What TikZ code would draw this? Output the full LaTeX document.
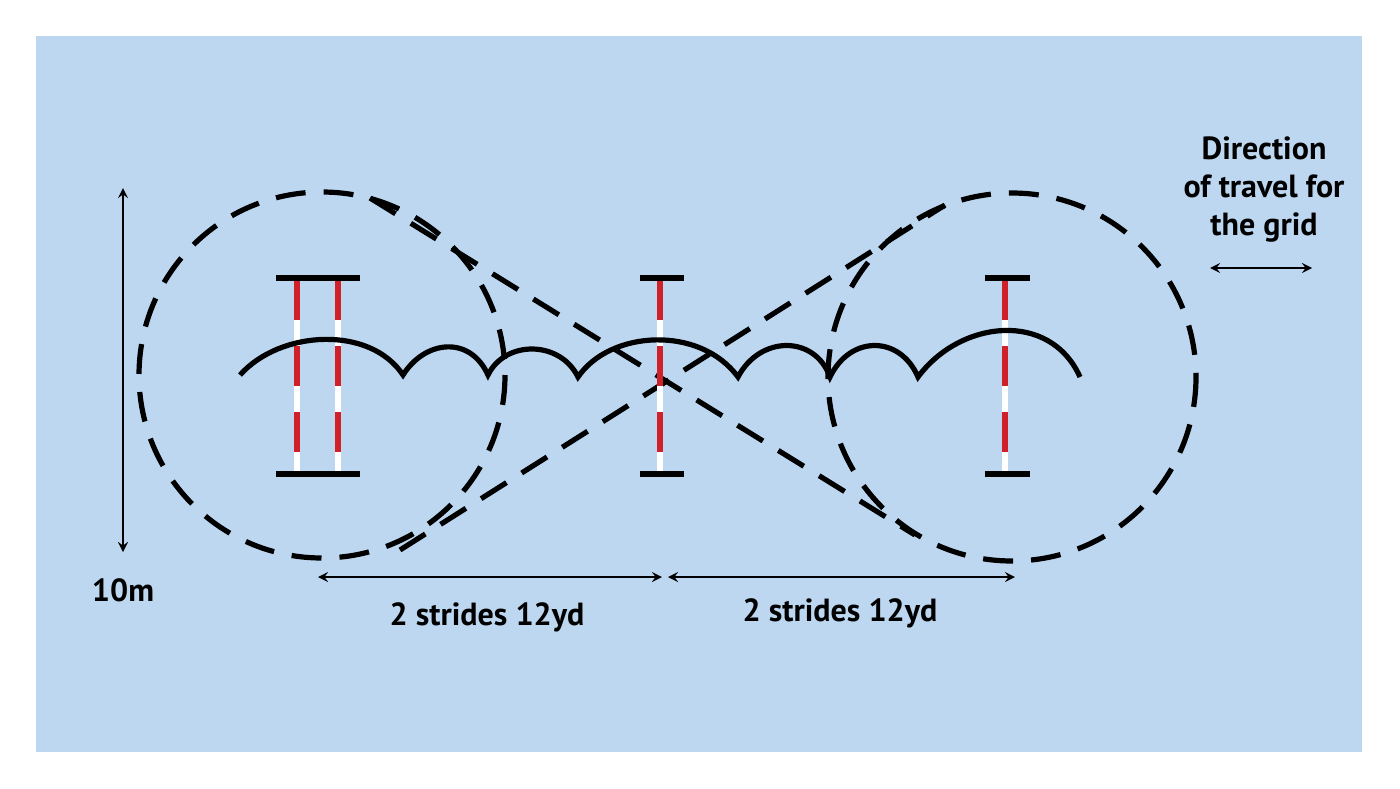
\documentclass[tikz,border=0pt]{standalone}
\usepackage{fontspec}
\setmainfont{PT Sans}
\begin{document}
\begin{tikzpicture}[x=0.5pt,y=-0.5pt,
  dsh/.style={line width=2.6pt,dash pattern=on 15pt off 9pt},
  barcap/.style={line width=2.6pt},
  ar/.style={line width=1.2pt,<->,>=stealth},
  lbl/.style={font=\bfseries\fontsize{16}{19}\selectfont,align=center}]
\definecolor{bg}{HTML}{BDD7F0}
\definecolor{pr}{HTML}{D0202A}
\useasboundingbox (0,0) rectangle (1400,788);
\fill[bg] (36,36) rectangle (1362,752);
% loops
\draw[dsh] (322,375) circle[radius=183];
\draw[dsh] (1012,377) circle[radius=184];
\coordinate (a1) at (370,198); \coordinate (a2) at (915,535);
\coordinate (b1) at (400,550); \coordinate (b2) at (945,205);
\draw[dsh] (a1) -- (a2);
\draw[dsh] (b1) -- (b2);
% poles
\foreach \x in {297,338,660,1005}{
  \draw[line width=2.8pt,white] (\x,280) -- (\x,474);
  \draw[line width=2.8pt,pr,dash pattern=on 20pt off 13pt] (\x,280) -- (\x,474);
}
\foreach \l/\r in {276/360,640/684,985/1030}{
  \draw[barcap] (\l,278) -- (\r,278);
  \draw[barcap] (\l,474) -- (\r,474);
}
% bounce path
\draw[line width=2.6pt] (240,375)
  .. controls (280,330) and (370,325) .. (403,375)
  .. controls (425,340) and (470,335) .. (488,375)
  .. controls (505,340) and (560,340) .. (578,377)
  .. controls (610,330) and (700,325) .. (738,377)
  .. controls (760,335) and (815,335) .. (830,377)
  .. controls (850,335) and (900,335) .. (918,377)
  .. controls (960,320) and (1050,310) .. (1080,377);
% dimension arrows
\coordinate (v1) at (123,188); \coordinate (v2) at (123,552);
\draw[ar] (v1) -- (v2);
\node[lbl] (t10) at (123,590) {10m};
\coordinate (h1) at (318,577); \coordinate (h2) at (662,577);
\coordinate (h3) at (668,577); \coordinate (h4) at (1015,577);
\draw[ar] (h1) -- (h2);
\draw[ar] (h3) -- (h4);
\node[lbl] (s1) at (487,617) {2 strides 12yd};
\node[lbl] (s2) at (840,613) {2 strides 12yd};
\node[lbl] (dir) at (1264,190) {Direction\\of travel for\\the grid};
\coordinate (d1) at (1210,268); \coordinate (d2) at (1312,268);
\draw[ar] (d1) -- (d2);
\end{tikzpicture}
\end{document}
